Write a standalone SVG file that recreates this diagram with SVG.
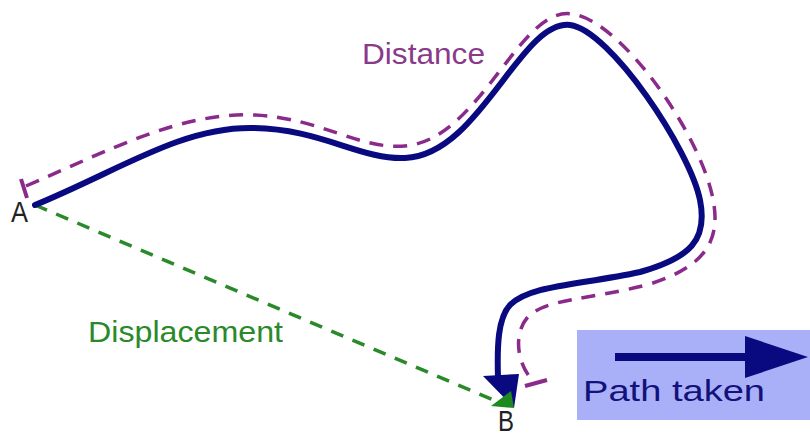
<svg xmlns="http://www.w3.org/2000/svg" width="810" height="437" viewBox="0 0 810 437">
<style>
.path{fill:none;stroke:#0a0a80;stroke-width:6;stroke-linecap:round}
.dist{fill:none;stroke:#8a2a8a;stroke-width:3.5;stroke-dasharray:14,10}
.disp{fill:none;stroke:#2a8a2a;stroke-width:3.5;stroke-dasharray:13,10}
.lbl{font-family:"Liberation Sans",Arial,sans-serif;font-size:29px}
</style>
<rect width="810" height="437" fill="#ffffff"/>
<g id="connectors">
<path id="distance" class="dist" d="M26,186 C110,150 180,112 255,115 C320,118 360,150 405,146 C480,140 520,5 572,14 C622,20 705,140 714,205 C720,245 700,268 650,284 C590,300 545,298 527,318 C515,332 515,360 532,380"/>
<path d="M21,179 L27,198 M525,386 L547,380" stroke="#8a2a8a" stroke-width="4" fill="none"/>
<path id="displacement" class="disp" d="M35,205 L505,405"/>
<path id="taken" class="path" d="M35,205 C120,170 180,128 250,128 C320,128 360,160 405,158 C480,155 520,20 570,25 C610,30 690,150 700,200 C708,240 690,258 640,272 C580,285 530,285 510,305 C498,318 497,345 498,378"/>
<polygon points="483,376 519,374 514,408" fill="#0a0a80"/>
<polygon points="491,406 514,408 511,391" fill="#1e8a1e"/>
</g>
<g id="labelA"><text class="lbl" x="11" y="222" font-size="21" textLength="17" lengthAdjust="spacingAndGlyphs" fill="#222">A</text></g>
<g id="labelB"><text class="lbl" x="498" y="431" font-size="19" textLength="16" lengthAdjust="spacingAndGlyphs" fill="#222">B</text></g>
<g id="distanceLabel"><text class="lbl" x="362" y="64" textLength="123" lengthAdjust="spacingAndGlyphs" fill="#8a3a8a">Distance</text></g>
<g id="displacementLabel"><text class="lbl" x="88" y="342" font-size="28" textLength="195" lengthAdjust="spacingAndGlyphs" fill="#2a8a2a">Displacement</text></g>
<g id="legend">
<rect x="577" y="330" width="233" height="90" fill="#aab0f8"/>
<line x1="615" y1="357" x2="760" y2="357" stroke="#0a0a80" stroke-width="8"/>
<polygon points="745,336 808,357 745,378" fill="#0a0a80"/>
<text class="lbl" x="583" y="401" textLength="182" lengthAdjust="spacingAndGlyphs" fill="#12127a">Path taken</text>
</g>
</svg>
